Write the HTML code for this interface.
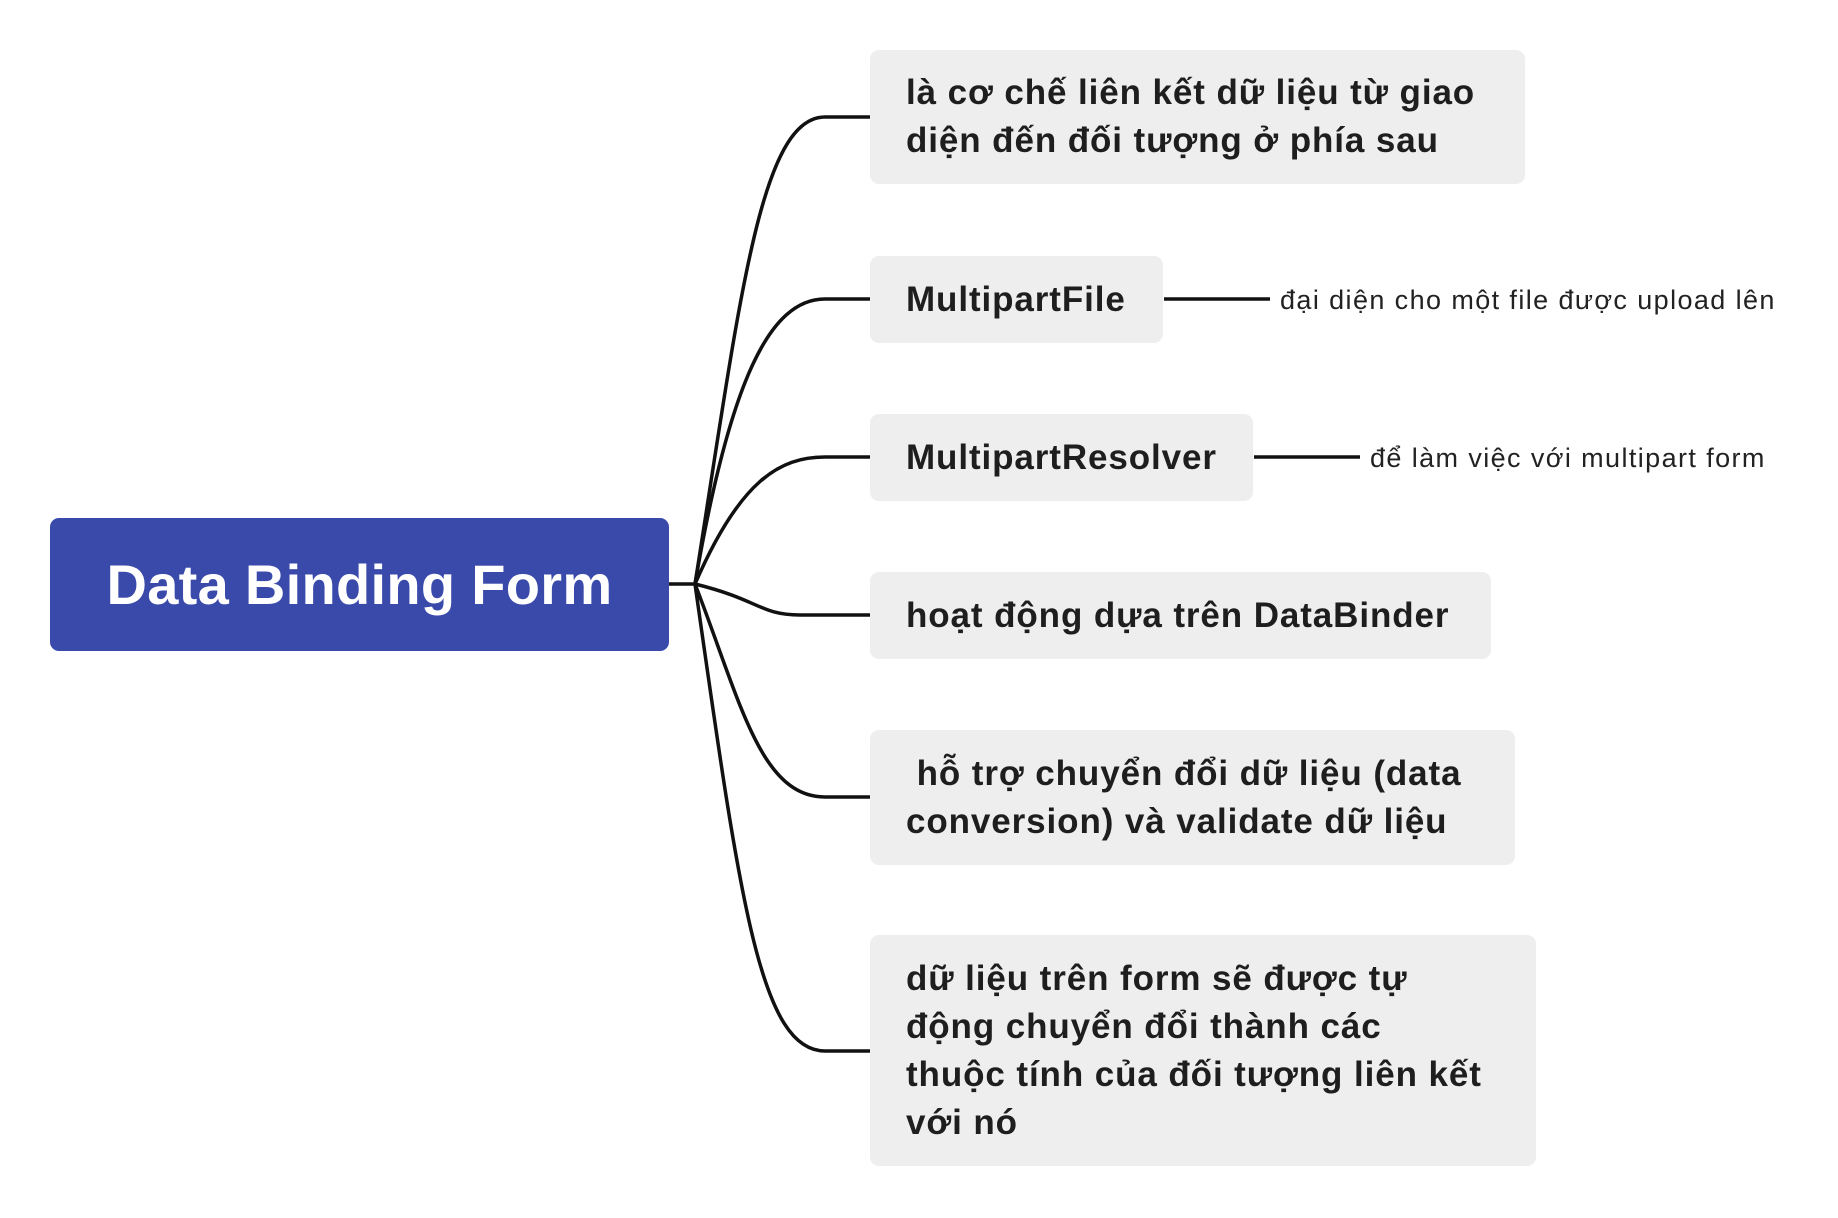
<!DOCTYPE html>
<html><head><meta charset="utf-8"><style>
html,body{margin:0;padding:0;background:#fff;}
body{width:1838px;height:1218px;position:relative;overflow:hidden;font-family:"Liberation Sans","DejaVu Sans",sans-serif;}
.n{position:absolute;background:#eeeeee;border-radius:9px;box-sizing:border-box;padding-left:36px;font-size:35px;letter-spacing:0.9px;font-weight:bold;color:#1e1e1e;line-height:48px;display:flex;align-items:center;white-space:nowrap;}
.c{position:absolute;left:50px;top:518px;width:619px;height:133px;background:#3a4aab;border-radius:9px;color:#fff;font-size:56px;letter-spacing:0.3px;font-weight:bold;display:flex;align-items:center;justify-content:center;}
.l{position:absolute;font-size:27px;letter-spacing:1.4px;color:#222;line-height:30px;white-space:nowrap;}
svg{position:absolute;left:0;top:0;}
</style></head><body>
<svg width="1838" height="1218">
<g fill="none" stroke="#111" stroke-width="3.5">
<path d="M669 584 H695"/>
<path d="M695 584 C740 300,760 117,825 117 H870"/>
<path d="M695 584 C730 380,770 299,825 299 H870"/>
<path d="M695 584 C740 480,780 457,825 457 H870"/>
<path d="M695 584 C760 600,760 615,800 615 H870"/>
<path d="M695 584 C740 700,760 797,825 797 H870"/>
<path d="M695 584 C740 900,760 1051,825 1051 H870"/>
<path d="M1164 299 H1270"/>
<path d="M1254 457 H1360"/>
</g></svg>
<div class="c">Data Binding Form</div>
<div class="n" style="left:870px;top:50px;width:655px;height:134px;">là cơ chế liên kết dữ liệu từ giao<br>diện đến đối tượng ở phía sau</div>
<div class="n" style="left:870px;top:256px;width:293px;height:87px;">MultipartFile</div>
<div class="n" style="left:870px;top:414px;width:383px;height:87px;">MultipartResolver</div>
<div class="n" style="left:870px;top:572px;width:621px;height:87px;">hoạt động dựa trên DataBinder</div>
<div class="n" style="left:870px;top:730px;width:645px;height:135px;">&nbsp;hỗ trợ chuyển đổi dữ liệu (data<br>conversion) và validate dữ liệu</div>
<div class="n" style="left:870px;top:935px;width:666px;height:231px;">dữ liệu trên form sẽ được tự<br>động chuyển đổi thành các<br>thuộc tính của đối tượng liên kết<br>với nó</div>
<div class="l" style="left:1280px;top:285px;">đại diện cho một file được upload lên</div>
<div class="l" style="left:1370px;top:443px;">để làm việc với multipart form</div>
</body></html>
